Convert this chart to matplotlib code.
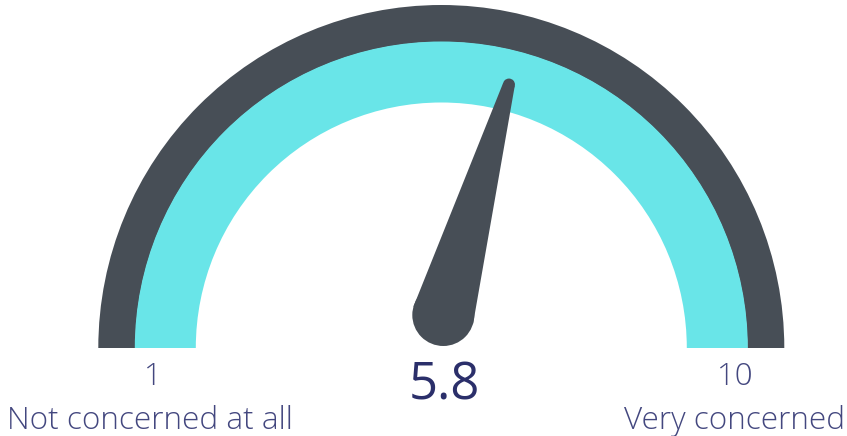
import numpy as np
import matplotlib.pyplot as plt
from matplotlib.patches import Wedge, Circle, Polygon

# gauge data
value = 5.8
scale_max = 10
end_labels = ['1', '10']
end_captions = ['Not concerned at all', 'Very concerned']

dark = '#474e56'
cyan = '#69e5e8'
text_col = '#43477f'
value_col = '#2b2f6a'

plt.rcParams['font.family'] = ['Open Sans', 'DejaVu Sans']

fig = plt.figure(figsize=(8.47, 4.36), dpi=100)
ax = fig.add_axes([0, 0, 1, 1])
ax.set_xlim(0, 847)
ax.set_ylim(0, 436)
ax.set_aspect('equal')
ax.axis('off')

cx, cy = 441.3, 88
ax.add_patch(Wedge((cx, cy), 343, 0, 180, width=37, color=dark, lw=0))
ax.add_patch(Wedge((cx, cy), 306.5, 0, 180, width=61, color=cyan, lw=0))

# needle: angle from the value, tip along the ray from the gauge centre
ang = np.radians(180 * (1 - value / scale_max))
tip = np.array([cx + 272 * np.cos(ang), cy + 272 * np.sin(ang)])
base = np.array([cx + 2, cy + 33])
r_base, r_tip = 31, 6
d = tip - base
d = d / np.linalg.norm(d)
n = np.array([-d[1], d[0]])
pts = [base + n * r_base, tip + n * r_tip, tip - n * r_tip, base - n * r_base]
ax.add_patch(Polygon(pts, closed=True, color=dark, lw=0))
ax.add_patch(Circle(base, r_base, color=dark, lw=0))
ax.add_patch(Circle(tip, r_tip, color=dark, lw=0))

ax.text(153, 59, end_labels[0], ha='center', va='center', fontsize=22.5,
        color=text_col, fontweight='light')
ax.text(735, 59, end_labels[1], ha='center', va='center', fontsize=22.5,
        color=text_col, fontweight='light')
ax.text(150, 15, end_captions[0], ha='center', va='center', fontsize=22.7,
        color=text_col, fontweight='light')
ax.text(845, 15, end_captions[1], ha='right', va='center', fontsize=22.7,
        color=text_col, fontweight='light')
ax.text(444, 50, f'{value}', ha='center', va='center', fontsize=36.5,
        color=value_col)

plt.savefig('out.png', dpi=100)
